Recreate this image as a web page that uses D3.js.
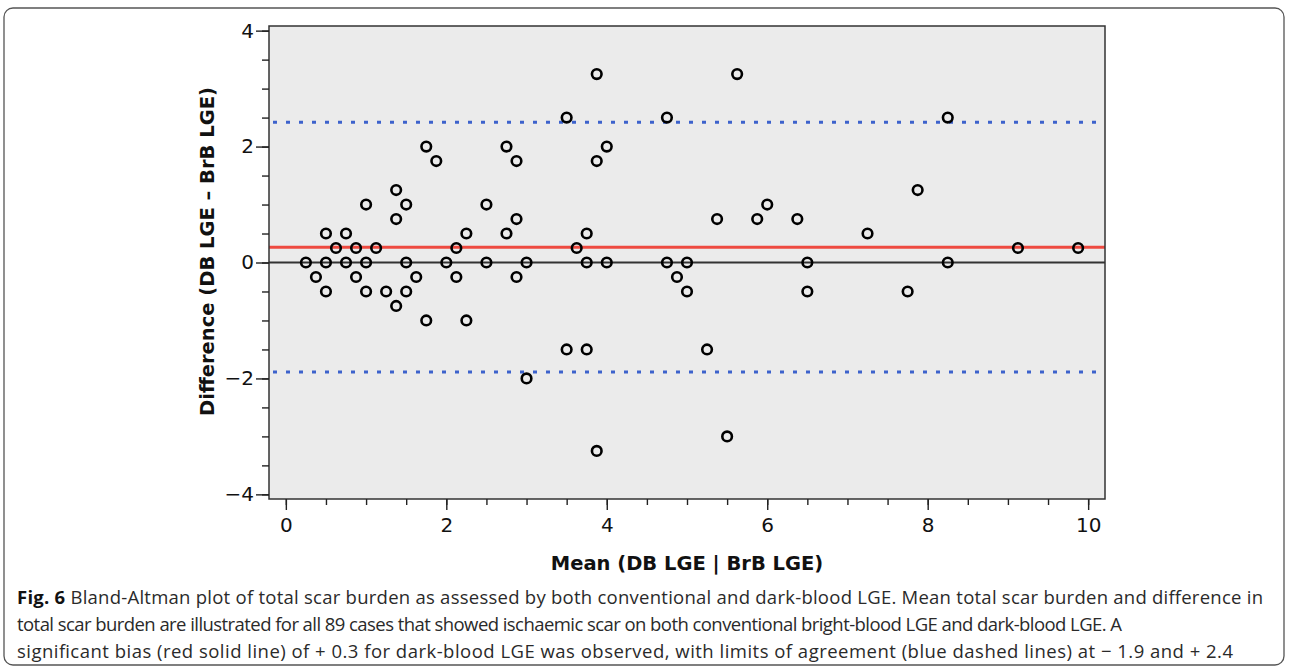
<!DOCTYPE html>
<html>
	<head>
		<meta charset="utf-8">
		<style type="text/css">
			body { margin: 0; background: #fff; }
			svg { display: block; }
			.tick text { font-family: "DejaVu Sans", sans-serif; font-size: 20px; fill: #111; }
			.tick line { stroke: #222; stroke-width: 1.4; }
			.title { font-family: "DejaVu Sans", sans-serif; font-weight: bold; font-size: 19.5px; fill: #111; }
			.caption { font-family: "Open Sans", sans-serif; font-size: 18.5px; fill: #2a2a2a; }
		</style>
		<title>Bland-Altman</title>
	</head>
	<body>
		<script src="https://cdn.jsdelivr.net/npm/d3@7"></script>
		<script>
		// mean of both methods
		var meanVals = [0.25, 0.375, 0.5, 0.5, 0.5, 0.625, 0.75, 0.75, 0.875, 0.875,
			1, 1, 1, 1.125, 1.25, 1.375, 1.375, 1.375, 1.5, 1.5, 1.5, 1.625, 1.75, 1.75, 1.875,
			2, 2.125, 2.125, 2.25, 2.25, 2.5, 2.5, 2.75, 2.75, 2.875, 2.875, 2.875, 3, 3,
			3.5, 3.5, 3.625, 3.75, 3.75, 3.75, 3.875, 3.875, 3.875, 4, 4,
			4.75, 4.75, 4.875, 5, 5, 5.25, 5.375, 5.5, 5.625, 5.875, 6, 6.375, 6.5, 6.5,
			7.25, 7.75, 7.875, 8.25, 8.25, 9.125, 9.875];
		// difference DB - BrB
		var diffVals = [0, -0.25, 0.5, 0, -0.5, 0.25, 0.5, 0, 0.25, -0.25,
			1, 0, -0.5, 0.25, -0.5, 1.25, 0.75, -0.75, 1, 0, -0.5, -0.25, 2, -1, 1.75,
			0, 0.25, -0.25, 0.5, -1, 1, 0, 2, 0.5, 1.75, 0.75, -0.25, 0, -2,
			2.5, -1.5, 0.25, 0.5, 0, -1.5, 3.25, 1.75, -3.25, 2, 0,
			2.5, 0, -0.25, 0, -0.5, -1.5, 0.75, -3, 3.25, 0.75, 1, 0.75, 0, -0.5,
			0.5, -0.5, 1.25, 2.5, 0, 0.25, 0.25];
		var bias = 0.265;
		var limits = [-1.89, 2.42];
		var xMajor = [0, 2, 4, 6, 8, 10];
		var yMajor = [-4, -2, 0, 2, 4];
		var xTitle = "Mean (DB LGE | BrB LGE)";
		var yTitle = "Difference (DB LGE \u2013 BrB LGE)";
		var captionLines = [
			"Bland-Altman plot of total scar burden as assessed by both conventional and dark-blood LGE. Mean total scar burden and difference in",
			"total scar burden are illustrated for all 89 cases that showed ischaemic scar on both conventional bright-blood LGE and dark-blood LGE. A",
			"significant bias (red solid line) of + 0.3 for dark-blood LGE was observed, with limits of agreement (blue dashed lines) at \u2212 1.9 and + 2.4"
		];

		var W = 1290, H = 670;
		var plot = {left: 269, right: 1105, top: 26, bottom: 499};

		var x = d3.scaleLinear().domain([-0.21, 10.21]).range([plot.left, plot.right]);
		var y = d3.scaleLinear().domain([-4.08, 4.08]).range([plot.bottom, plot.top]);

		var svg = d3.select("body").append("svg")
			.attr("width", W)
			.attr("height", H);

		// outer frame
		svg.append("rect")
			.attr("x", 4).attr("y", 8)
			.attr("width", 1280).attr("height", 657)
			.attr("rx", 9)
			.attr("fill", "none")
			.attr("stroke", "#555")
			.attr("stroke-width", 1.3);

		svg.append("rect")
			.attr("x", plot.left).attr("y", plot.top)
			.attr("width", plot.right - plot.left)
			.attr("height", plot.bottom - plot.top)
			.attr("fill", "#ebebeb");

		// reference lines
		svg.append("line")
			.attr("x1", plot.left).attr("x2", plot.right)
			.attr("y1", y(0)).attr("y2", y(0))
			.attr("stroke", "#333").attr("stroke-width", 2);
		svg.append("line")
			.attr("x1", plot.left).attr("x2", plot.right)
			.attr("y1", y(bias)).attr("y2", y(bias))
			.attr("stroke", "#ee4a40").attr("stroke-width", 3);
		svg.selectAll(".loa").data(limits).enter()
			.append("line")
			.attr("class", "loa")
			.attr("x1", plot.left + 4).attr("x2", plot.right)
			.attr("y1", function(d){ return y(d); })
			.attr("y2", function(d){ return y(d); })
			.attr("stroke", "#3c62cc")
			.attr("stroke-width", 3)
			.attr("stroke-dasharray", "4,9");

		// points
		svg.selectAll(".pt").data(meanVals).enter()
			.append("circle")
			.attr("class", "pt")
			.attr("cx", function(d){ return x(d); })
			.attr("cy", function(d,i){ return y(diffVals[i]); })
			.attr("r", 4.8)
			.attr("fill", "none")
			.attr("stroke", "#000")
			.attr("stroke-width", 2.6);

		svg.append("rect")
			.attr("x", plot.left).attr("y", plot.top)
			.attr("width", plot.right - plot.left)
			.attr("height", plot.bottom - plot.top)
			.attr("fill", "none")
			.attr("stroke", "#333")
			.attr("stroke-width", 1.5);

		// axes: minor ticks every 0.5, major ticks labelled
		var yMinor = d3.range(-4, 4.01, 0.5);
		var xMinor = d3.range(0, 10.01, 0.5);

		svg.append("g")
			.attr("transform", "translate(" + plot.left + ",0)")
			.call(d3.axisLeft(y).tickValues(yMinor).tickSize(7).tickFormat(""))
			.call(function(g){ g.select(".domain").remove(); });
		svg.append("g")
			.attr("transform", "translate(" + plot.left + ",0)")
			.call(d3.axisLeft(y).tickValues(yMajor).tickSize(13).tickPadding(2))
			.call(function(g){ g.select(".domain").remove(); });

		svg.append("g")
			.attr("transform", "translate(0," + plot.bottom + ")")
			.call(d3.axisBottom(x).tickValues(xMinor).tickSize(6).tickFormat(""))
			.call(function(g){ g.select(".domain").remove(); });
		svg.append("g")
			.attr("transform", "translate(0," + plot.bottom + ")")
			.call(d3.axisBottom(x).tickValues(xMajor).tickSize(11).tickPadding(8))
			.call(function(g){ g.select(".domain").remove(); });

		svg.append("text")
			.attr("class", "title")
			.attr("x", (plot.left + plot.right) / 2)
			.attr("y", 570)
			.attr("text-anchor", "middle")
			.text(xTitle);
		svg.append("text")
			.attr("class", "title")
			.attr("transform", "translate(214," + ((plot.top + plot.bottom) / 2 - 11) + ") rotate(-90)")
			.attr("text-anchor", "middle")
			.text(yTitle);

		// caption
		var cap = svg.append("g").attr("class", "caption");
		var capEnds = [1263, 1122, 1233];
		captionLines.forEach(function(line, i){
			var t = cap.append("text")
				.attr("x", 17)
				.attr("y", 604 + i * 27)
				.attr("textLength", capEnds[i] - 17)
				.attr("lengthAdjust", "spacing");
			if (i == 0) {
				t.append("tspan").attr("font-weight", "bold").attr("fill", "#111").text("Fig. 6 ");
			}
			t.append("tspan").text(line);
		});
		</script>
	</body>
</html>
